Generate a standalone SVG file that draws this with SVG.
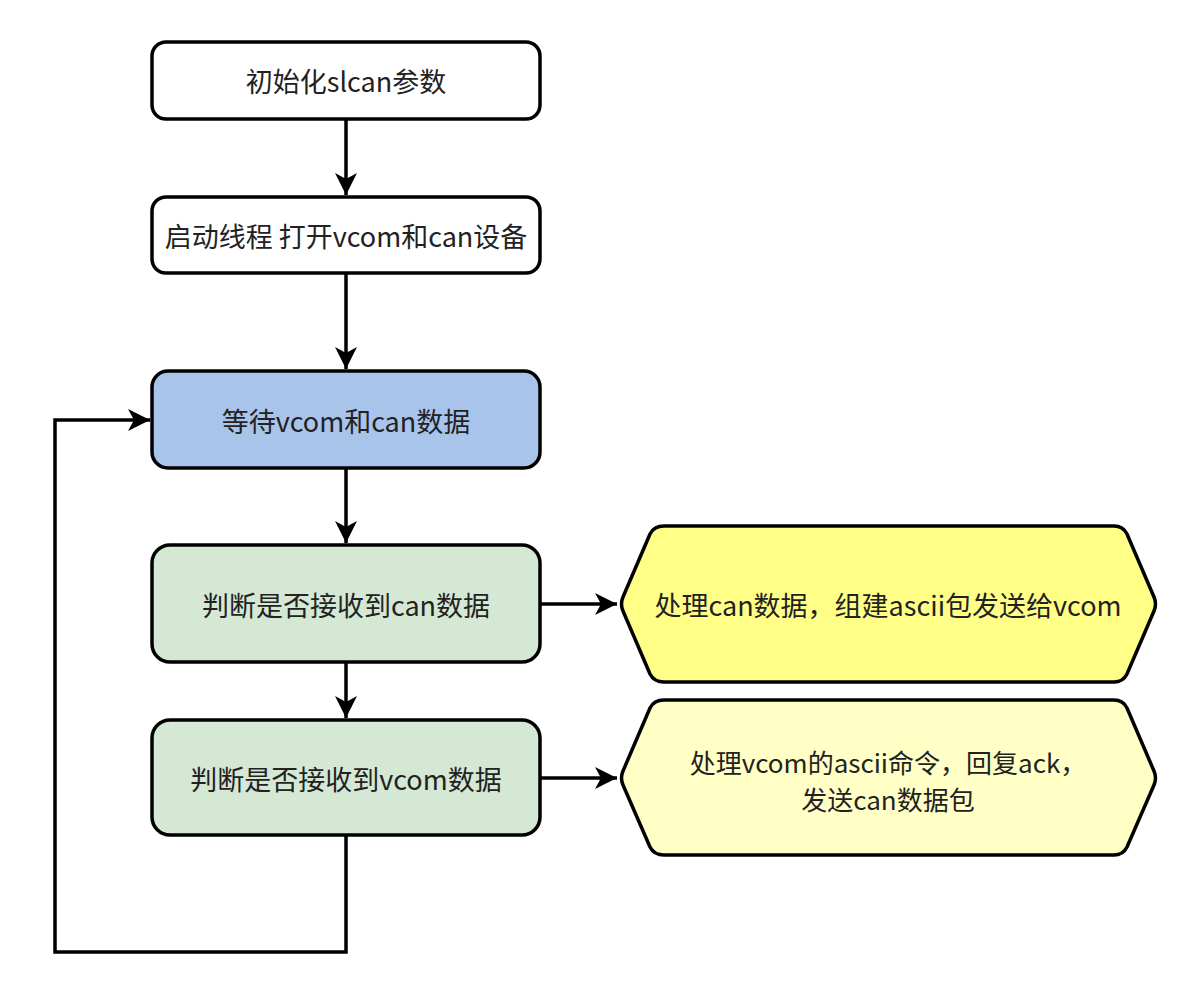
<svg xmlns="http://www.w3.org/2000/svg" width="1200" height="1008" viewBox="0 0 1200 1008">
<style>
.box{stroke:#000;stroke-width:3.5}
.w{fill:#fff}.b{fill:#A9C4EB}.g{fill:#D5E8D4}.y1{fill:#FFFF88}.y2{fill:#FFFFC6}
text{font-family:"Noto Sans CJK SC","Noto Sans",sans-serif;font-size:27px;fill:#222;text-anchor:middle;dominant-baseline:central}
.s{font-size:26px}
.c{fill:none;stroke:#000;stroke-width:3.5}
</style>
<defs>
<marker id="arr" markerUnits="userSpaceOnUse" markerWidth="26" markerHeight="26" viewBox="0 0 26 26" refX="24" refY="13" orient="auto">
<path d="M2,2 L24,13 L2,24 L8,13 Z" fill="#000"/>
</marker>
</defs>
<rect width="1200" height="1008" fill="#fff"/>
<g id="connectors">
<path class="c" d="M346,119 V195" marker-end="url(#arr)"/>
<path class="c" d="M346,273 V369" marker-end="url(#arr)"/>
<path class="c" d="M346,468 V543" marker-end="url(#arr)"/>
<path class="c" d="M346,662 V718" marker-end="url(#arr)"/>
<path class="c" d="M540,604 H617" marker-end="url(#arr)"/>
<path class="c" d="M540,778 H617" marker-end="url(#arr)"/>
<path class="c" d="M346,835 V952 H55 V420 H150" marker-end="url(#arr)"/>
</g>
<g id="n1"><rect class="box w" x="152" y="42" width="388" height="77" rx="14"/><text x="346" y="80">初始化slcan参数</text></g>
<g id="n2"><rect class="box w" x="152" y="197" width="388" height="76" rx="14"/><text x="346" y="235">启动线程 打开vcom和can设备</text></g>
<g id="n3"><rect class="box b" x="152" y="371" width="388" height="97" rx="16"/><text x="346" y="420">等待vcom和can数据</text></g>
<g id="n4"><rect class="box g" x="152" y="545" width="388" height="117" rx="18"/><text x="346" y="604">判断是否接收到can数据</text></g>
<g id="n5"><rect class="box g" x="152" y="720" width="388" height="115" rx="18"/><text x="346" y="778">判断是否接收到vcom数据</text></g>
<g id="n6"><path class="box y1" d="M623,597 L650,534 Q654,526 664,526 L1114,526 Q1123,526 1127,534 L1154,597 Q1157,604 1154,611 L1127,674 Q1123,682 1114,682 L664,682 Q654,682 650,674 L623,611 Q620,604 623,597 Z"/><text x="888" y="604">处理can数据，组建ascii包发送给vcom</text></g>
<g id="n7"><path class="box y2" d="M623,771 L650,708 Q654,700 664,700 L1114,700 Q1123,700 1127,708 L1154,771 Q1157,778 1154,785 L1127,847 Q1123,855 1114,855 L664,855 Q654,855 650,847 L623,785 Q620,778 623,771 Z"/><text class="s" x="888" y="761">处理vcom的ascii命令，回复ack，</text><text class="s" x="888" y="798">发送can数据包</text></g>
</svg>
